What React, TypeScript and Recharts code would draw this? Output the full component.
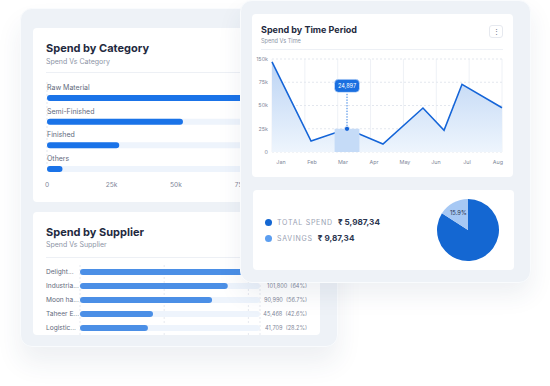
import React from 'react';
import {
  BarChart, Bar, XAxis, YAxis, CartesianGrid, LabelList,
  AreaChart, Area, ReferenceArea, ReferenceDot,
  PieChart, Pie, Cell, Legend,
} from 'recharts';

// ---------- data ----------
const categoryNames = ['Raw Material', 'Semi-Finished', 'Finished', 'Others'];
const categorySpend = [95000, 52700, 28000, 6000];
const categoryTicks = [0, 25000, 50000, 75000, 100000];
const categoryTickLabels = ['0', '25k', '50k', '75k', '100k'];
const categoryGridTicks = [25000, 50000, 75000];

const supplierNames = ['Delight...', 'Industria...', 'Moon ha...', 'Taheer E...', 'Logistic...'];
const supplierSpend = [120000, 101800, 90990, 50300, 46800];
const supplierValueLabels = ['120,000  (75%)', '101,800  (64%)', '90,990  (56.7%)', '45,468  (42.6%)', '41,709  (28.2%)'];
const supplierGridTicks = [29000, 58000, 87000, 116000];

const monthLabels = ['Jan', 'Feb', 'Mar', 'Apr', 'May', 'Jun', 'Jul', 'Aug'];
const monthTicks = [0, 1, 2, 3, 4, 5, 6, 7];
const timeGridTicks = [1, 2, 3, 4, 5, 6, 7];
const timePositions = [-0.29, 0.97, 2.13, 3.29, 4.58, 5.26, 5.84, 7.13];
const timeSpend = [96800, 11800, 24897, 8600, 47300, 23400, 72800, 47600];
const timeYTicks = [0, 25000, 50000, 75000, 100000];
const timeYTickLabels = ['0', '25k', '50k', '75k', '150k'];
const highlightIndex = 2;

const pieNames = ['TOTAL SPEND', 'SAVINGS'];
const pieShares = [84.1, 15.9];
const pieValueLabels = ['₹ 5,987,34', '₹ 9,87,34'];
const pieColors = ['#1467d2', '#a6c8f4'];
const legendColors = ['#1467d2', '#5c9ef0'];

// ---------- derived tables ----------
const categoryData = categoryNames.map((name, i) => ({ name, value: categorySpend[i] }));
const supplierData = supplierNames.map((name, i) => ({ name, value: supplierSpend[i], label: supplierValueLabels[i] }));
const timeData = timePositions.map((x, i) => ({ x, v: timeSpend[i] }));
const pieData = pieNames.map((name, i) => ({ name, share: pieShares[i] }));

// ---------- styles ----------
const FONT = 'Inter, "Noto Sans", sans-serif';
const TITLE = '#1f2a40';
const SUB = '#8d95a6';
const LABEL = '#5f6a7c';
const TICK = '#7f889a';

const panel: React.CSSProperties = {
  position: 'absolute',
  background: '#eef2f7',
  borderRadius: 12,
  border: '1px solid #f9fbfd',
  boxSizing: 'border-box',
};
const card: React.CSSProperties = {
  position: 'absolute',
  background: '#ffffff',
  borderRadius: 4,
  overflow: 'hidden',
};

const CategoryLabel = (props: any) => {
  const { x, y, height, value } = props;
  return (
    <text x={x} y={y + height / 2 - 10.5} fontSize={7} fill={LABEL} dominantBaseline="central" textAnchor="start">
      {value}
    </text>
  );
};

const SupplierNameTick = (props: any) => {
  const { x, y, payload } = props;
  return (
    <text x={x - 34} y={y} fontSize={6.6} fill={LABEL} dominantBaseline="central" textAnchor="start">
      {payload.value}
    </text>
  );
};

const SupplierValueTick = (props: any) => {
  const { x, y, index } = props;
  return (
    <text x={x + 47} y={y} fontSize={5.6} fill={TICK} dominantBaseline="central" textAnchor="end" style={{ whiteSpace: 'pre' }}>
      {supplierValueLabels[index]}
    </text>
  );
};

const HighlightMarker = (props: any) => {
  const { cx, cy } = props;
  if (cx == null || cy == null) return null;
  return (
    <g>
      <line x1={cx} y1={cy} x2={cx} y2={cy - 36} stroke="#1a6fe0" strokeWidth={0.9} strokeDasharray="1.4 1.4" />
      <rect x={cx - 12.5} y={cy - 49.5} width={25} height={13} rx={4} fill="#1a6fe0" stroke="#dce9fb" strokeWidth={0.6} />
      <text x={cx} y={cy - 43} fontSize={5.6} fill="#ffffff" textAnchor="middle" dominantBaseline="central">
        {timeSpend[highlightIndex].toLocaleString('en-US')}
      </text>
      <circle cx={cx} cy={cy} r={2.6} fill="#1565d8" stroke="#ffffff" strokeWidth={0.7} />
    </g>
  );
};

const RAD = Math.PI / 180;
const PieLabel = (props: any) => {
  const { cx, cy, midAngle, outerRadius, index } = props;
  if (index !== 1) return null;
  const r = outerRadius * 0.65;
  const x = cx + r * Math.cos(-midAngle * RAD);
  const y = cy + r * Math.sin(-midAngle * RAD);
  return (
    <text x={x} y={y} fontSize={5.8} fill="#2b3650" textAnchor="middle" dominantBaseline="central">
      {`${pieShares[index]}%`}
    </text>
  );
};

const PieLegend = (props: any) => {
  const payload = [...(props.payload || [])].sort(
    (a: any, b: any) => pieNames.indexOf(a.value) - pieNames.indexOf(b.value),
  );
  return (
    <div style={{ fontFamily: FONT }}>
      {payload.map((entry: any) => {
        const i = pieNames.indexOf(entry.value);
        return (
          <div key={entry.value} style={{ display: 'flex', alignItems: 'center', height: 16, whiteSpace: 'nowrap' }}>
            <span style={{ width: 7, height: 7, borderRadius: '50%', background: legendColors[i], display: 'inline-block', marginRight: 5 }} />
            <span style={{ fontSize: 7, letterSpacing: 0.75, color: '#9aa2b3', marginRight: 5 }}>{entry.value}</span>
            <span style={{ fontSize: 8.2, fontWeight: 700, color: '#2b3650' }}>{pieValueLabels[i]}</span>
          </div>
        );
      })}
    </div>
  );
};

export default function App() {
  return (
    <div style={{ position: 'absolute', left: 0, top: 0, width: 550, height: 386, overflow: 'hidden', background: '#ffffff', fontFamily: FONT }}>
      {/* left panel */}
      <div style={{ ...panel, left: 20, top: 8, width: 318, height: 339, boxShadow: '0 16px 26px rgba(40,60,100,0.08)' }} />

      {/* Spend by Category */}
      <div style={{ ...card, left: 33, top: 28, width: 287, height: 174 }}>
        <div style={{ position: 'absolute', left: 13, top: 13, fontSize: 11, fontWeight: 700, color: TITLE, lineHeight: '14px' }}>Spend by Category</div>
        <div style={{ position: 'absolute', left: 13, top: 29, fontSize: 7, color: SUB, lineHeight: '10px' }}>Spend Vs Category</div>
        <div style={{ position: 'absolute', left: 13, right: 0, top: 44, height: 1, background: '#edf0f5' }} />
        <div style={{ position: 'absolute', left: 0, top: 0 }}>
          <BarChart width={287} height={174} data={categoryData} layout="vertical" margin={{ top: 58, right: 15, bottom: 0, left: 14 }} barSize={6}>
            <CartesianGrid xAxisId="grid" horizontal={false} stroke="#e3e7ee" strokeDasharray="2 2" y={54} height={82} />
            <XAxis type="number" dataKey="value" domain={[0, 100000]} ticks={categoryTicks} tickFormatter={(v: number) => categoryTickLabels[categoryTicks.indexOf(v)]}
              axisLine={false} tickLine={false} tickSize={0} tickMargin={2} height={21.5} tick={{ fontSize: 6.6, fill: TICK }} interval={0} />
            <XAxis xAxisId="grid" type="number" domain={[0, 100000]} ticks={categoryGridTicks} hide />
            <YAxis type="category" dataKey="name" hide />
            <Bar dataKey="value" fill="#1a73e8" radius={3} background={{ fill: '#eef4fc', radius: 3 }} isAnimationActive={false}>
              <LabelList dataKey="name" content={CategoryLabel} />
            </Bar>
          </BarChart>
        </div>
      </div>

      {/* Spend by Supplier */}
      <div style={{ ...card, left: 33, top: 212, width: 287, height: 123 }}>
        <div style={{ position: 'absolute', left: 13, top: 13, fontSize: 11, fontWeight: 700, color: TITLE, lineHeight: '14px' }}>Spend by Supplier</div>
        <div style={{ position: 'absolute', left: 13, top: 28, fontSize: 7, color: SUB, lineHeight: '10px' }}>Spend Vs Supplier</div>
        <div style={{ position: 'absolute', left: 13, right: 0, top: 44.5, height: 1, background: '#edf0f5' }} />
        <div style={{ position: 'absolute', left: 0, top: 0 }}>
          <BarChart width={287} height={124} data={supplierData} layout="vertical" margin={{ top: 53, right: 0, bottom: 1, left: 0 }} barSize={6}>
            <CartesianGrid horizontal={false} stroke="#e6e9ef" strokeDasharray="2 2" />
            <XAxis type="number" dataKey="value" domain={[0, 124000]} ticks={supplierGridTicks} hide />
            <YAxis type="category" dataKey="name" width={47} axisLine={false} tickLine={false} tickSize={0} tickMargin={0} tick={SupplierNameTick} interval={0} />
            <YAxis yAxisId="values" orientation="right" type="category" dataKey="name" width={60} axisLine={false} tickLine={false} tickSize={0} tickMargin={0} tick={SupplierValueTick} interval={0} />
            <Bar dataKey="value" fill="#4b8fe6" radius={3} background={{ fill: '#eef4fc', radius: 3 }} isAnimationActive={false} />
          </BarChart>
        </div>
      </div>

      {/* right panel */}
      <div style={{ ...panel, left: 240, top: 0, width: 291, height: 283, zIndex: 2, boxShadow: '0 12px 24px rgba(40,60,100,0.08)' }}>
        {/* Spend by Time Period */}
        <div style={{ ...card, left: 11, top: 13, width: 261, height: 163 }}>
          <div style={{ position: 'absolute', left: 9, top: 10, fontSize: 9, fontWeight: 700, color: TITLE, lineHeight: '12px' }}>Spend by Time Period</div>
          <div style={{ position: 'absolute', left: 9, top: 23, fontSize: 5.6, color: SUB, lineHeight: '8px' }}>Spend Vs Time</div>
          <div style={{ position: 'absolute', left: 9, right: 10, top: 35, height: 1, background: '#edf0f5' }} />
          <div style={{ position: 'absolute', left: 237, top: 11, width: 14, height: 13, boxSizing: 'border-box', border: '1px solid #e6e9ef', borderRadius: 3, display: 'flex', alignItems: 'center', justifyContent: 'center', fontSize: 7, color: '#5f6a7c', lineHeight: '7px' }}>⋮</div>
          <div style={{ position: 'absolute', left: 0, top: 0 }}>
            <AreaChart width={261} height={163} data={timeData} margin={{ top: 45, right: 11, bottom: 0, left: 0 }}>
              <defs>
                <linearGradient id="timeFill" x1="0" y1="0" x2="0" y2="1">
                  <stop offset="0%" stopColor="#bcd4f4" stopOpacity={1} />
                  <stop offset="100%" stopColor="#eef5fd" stopOpacity={1} />
                </linearGradient>
              </defs>
              <CartesianGrid xAxisId="grid" horizontal={false} stroke="#eef1f6" />
              <CartesianGrid vertical={false} stroke="#e3e7ee" strokeDasharray="2 2" />
              <XAxis type="number" dataKey="x" domain={[-0.29, 7.13]} ticks={monthTicks} tickFormatter={(v: number) => monthLabels[v]} interval={0}
                axisLine={false} tickLine={false} tickSize={0} tickMargin={8} height={25} tick={{ fontSize: 5.4, fill: TICK }} />
              <XAxis xAxisId="grid" type="number" domain={[-0.29, 7.13]} ticks={timeGridTicks} hide />
              <YAxis type="number" domain={[0, 100000]} ticks={timeYTicks} tickFormatter={(v: number) => timeYTickLabels[timeYTicks.indexOf(v)]} interval={0}
                width={20} axisLine={false} tickLine={false} tickSize={0} tickMargin={4} tick={{ fontSize: 5.4, fill: TICK }} />
              <Area type="linear" dataKey="v" stroke="#1565d8" strokeWidth={1.6} fill="url(#timeFill)" fillOpacity={1} isAnimationActive={false} dot={false} activeDot={false} />
              <ReferenceArea x1={timePositions[highlightIndex] - 0.4} x2={timePositions[highlightIndex] + 0.4} y1={0} y2={timeSpend[highlightIndex]} fill="#c5dbf7" fillOpacity={1} stroke="none" />
              <ReferenceDot x={timePositions[highlightIndex]} y={timeSpend[highlightIndex]} r={2.6} shape={HighlightMarker} />
            </AreaChart>
          </div>
        </div>

        {/* Pie card */}
        <div style={{ ...card, left: 12, top: 189, width: 261, height: 80 }}>
          <PieChart width={261} height={80} margin={{ top: 0, right: 0, bottom: 0, left: 0 }}>
            <Pie data={pieData} dataKey="share" nameKey="name" cx={215} cy={40} outerRadius={31} startAngle={90} endAngle={-270}
              stroke="none" label={PieLabel} labelLine={false} isAnimationActive={false}>
              {pieData.map((d, i) => <Cell key={d.name} fill={pieColors[i]} />)}
            </Pie>
            <Legend layout="vertical" align="center" verticalAlign="middle" content={PieLegend}
              wrapperStyle={{ left: 12, top: 24, width: 'auto' }} />
          </PieChart>
        </div>
      </div>
    </div>
  );
}
